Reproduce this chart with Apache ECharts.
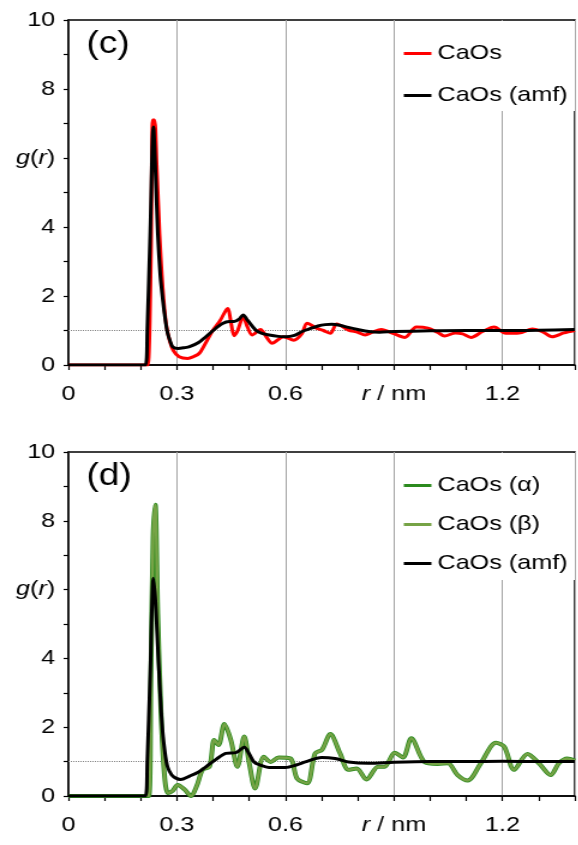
<!DOCTYPE html>
<html>
<head>
<meta charset="utf-8">
<script src="https://cdn.jsdelivr.net/npm/echarts@6/dist/echarts.min.js"></script>
<style>
html, body { margin: 0; padding: 0; background: #fff; overflow: hidden; }
/* 原图横向被拉伸了约 1.2 倍 */
#gr_chart { width: 482px; height: 845px; transform: scaleX(1.2); transform-origin: 0 0; }
</style>
</head>
<body>
<div id="gr_chart"></div>
<script>
// (c) CaOs
var c_caos_r = [0, 0.215, 0.22, 0.228, 0.233, 0.238, 0.244, 0.252, 0.261, 0.27, 0.28, 0.29, 0.306, 0.33, 0.345, 0.362, 0.38, 0.399, 0.42, 0.44, 0.45, 0.458, 0.468, 0.483, 0.495, 0.508, 0.531, 0.548, 0.563, 0.595, 0.623, 0.645, 0.66, 0.687, 0.705, 0.724, 0.742, 0.774, 0.8, 0.82, 0.84, 0.865, 0.897, 0.93, 0.962, 0.994, 1.02, 1.04, 1.07, 1.09, 1.113, 1.145, 1.177, 1.209, 1.246, 1.283, 1.31, 1.337, 1.37, 1.4];
var c_caos_g = [0, 0, 0, 3.0, 7.1, 7.1, 5.8, 3.8, 2.2, 1.2, 0.7, 0.42, 0.24, 0.19, 0.24, 0.34, 0.65, 1.0, 1.3, 1.64, 1.2, 0.85, 1.0, 1.4, 1.1, 0.87, 1.03, 0.8, 0.63, 0.82, 0.72, 0.9, 1.21, 1.06, 1.0, 0.92, 1.19, 1.01, 0.95, 0.87, 0.95, 1.03, 0.92, 0.8, 1.1, 1.07, 0.95, 0.84, 0.93, 0.9, 0.8, 0.97, 1.1, 0.92, 0.93, 1.04, 0.97, 0.82, 0.93, 1.0];

// (c) CaOs (amf)
var c_amf_r = [0, 0.213, 0.218, 0.226, 0.235, 0.241, 0.247, 0.254, 0.261, 0.268, 0.274, 0.281, 0.288, 0.303, 0.32, 0.335, 0.36, 0.38, 0.4, 0.426, 0.445, 0.458, 0.472, 0.483, 0.495, 0.518, 0.535, 0.555, 0.58, 0.6, 0.625, 0.646, 0.67, 0.69, 0.71, 0.728, 0.75, 0.774, 0.8, 0.83, 0.86, 0.9, 1.0, 1.1, 1.2, 1.3, 1.4];
var c_amf_g = [0, 0, 1.0, 3.8, 6.9, 5.5, 3.82, 2.6, 1.88, 1.3, 0.93, 0.7, 0.53, 0.48, 0.5, 0.53, 0.65, 0.82, 1.0, 1.2, 1.26, 1.26, 1.33, 1.45, 1.3, 1.01, 0.92, 0.87, 0.83, 0.82, 0.86, 0.97, 1.06, 1.13, 1.17, 1.18, 1.15, 1.09, 1.03, 0.97, 0.95, 0.97, 0.99, 1.0, 1.0, 1.01, 1.03];

// (d) CaOs (α) / CaOs (β)，两条曲线几乎重合
var d_alpha_r = [0, 0.222, 0.228, 0.234, 0.24, 0.247, 0.256, 0.265, 0.275, 0.288, 0.302, 0.32, 0.339, 0.355, 0.371, 0.39, 0.403, 0.415, 0.431, 0.449, 0.467, 0.486, 0.5, 0.516, 0.54, 0.559, 0.581, 0.614, 0.632, 0.66, 0.682, 0.701, 0.724, 0.751, 0.774, 0.797, 0.824, 0.856, 0.874, 0.902, 0.925, 0.948, 0.984, 1.021, 1.049, 1.076, 1.104, 1.14, 1.182, 1.205, 1.232, 1.269, 1.301, 1.333, 1.356, 1.379, 1.4];
var d_alpha_g = [0, 0, 3.5, 7.5, 8.47, 5.3, 2.4, 0.67, 0.09, 0.15, 0.32, 0.2, 0.0, 0.3, 0.76, 0.85, 1.63, 1.48, 2.09, 1.63, 0.85, 1.73, 0.95, 0.22, 1.14, 0.99, 1.12, 1.09, 0.51, 0.37, 1.24, 1.34, 1.8, 1.24, 0.76, 0.8, 0.48, 0.85, 0.85, 1.26, 1.12, 1.68, 0.99, 0.93, 0.95, 0.61, 0.45, 0.95, 1.55, 1.43, 0.76, 1.22, 0.95, 0.61, 0.95, 1.09, 1.03];
var d_beta_r = [0, 0.222, 0.228, 0.234, 0.24, 0.247, 0.256, 0.265, 0.275, 0.288, 0.302, 0.32, 0.339, 0.355, 0.371, 0.39, 0.403, 0.415, 0.431, 0.449, 0.467, 0.486, 0.5, 0.516, 0.54, 0.559, 0.581, 0.614, 0.632, 0.66, 0.682, 0.701, 0.724, 0.751, 0.774, 0.797, 0.824, 0.856, 0.874, 0.902, 0.925, 0.948, 0.984, 1.021, 1.049, 1.076, 1.104, 1.14, 1.182, 1.205, 1.232, 1.269, 1.301, 1.333, 1.356, 1.379, 1.4];
var d_beta_g = [0, 0, 3.5, 7.5, 8.47, 5.3, 2.4, 0.67, 0.09, 0.15, 0.32, 0.2, 0.0, 0.3, 0.76, 0.85, 1.63, 1.48, 2.09, 1.63, 0.85, 1.73, 0.95, 0.22, 1.14, 0.99, 1.12, 1.09, 0.51, 0.37, 1.24, 1.34, 1.8, 1.24, 0.76, 0.8, 0.48, 0.85, 0.85, 1.26, 1.12, 1.68, 0.99, 0.93, 0.95, 0.61, 0.45, 0.95, 1.55, 1.43, 0.76, 1.22, 0.95, 0.61, 0.95, 1.09, 1.03];

// (d) CaOs (amf)
var d_amf_r = [0, 0.213, 0.218, 0.226, 0.235, 0.241, 0.247, 0.254, 0.26, 0.267, 0.274, 0.285, 0.297, 0.31, 0.335, 0.36, 0.38, 0.41, 0.435, 0.463, 0.486, 0.5, 0.513, 0.53, 0.554, 0.6, 0.63, 0.655, 0.7, 0.737, 0.774, 0.83, 0.9, 1.0, 1.1, 1.2, 1.3, 1.4];
var d_amf_g = [0, 0, 1.0, 3.5, 6.33, 5.6, 4.34, 2.9, 1.92, 1.25, 0.85, 0.62, 0.52, 0.48, 0.58, 0.7, 0.85, 1.08, 1.24, 1.26, 1.42, 1.22, 0.99, 0.9, 0.83, 0.83, 0.9, 0.99, 1.12, 1.09, 0.99, 0.95, 0.98, 1.0, 1.0, 1.01, 1.0, 1.0];

// 刻度标签
var x_tick_labels = ['0', '0.3', '0.6', '', '1.2'];
var x_tick_values = [0, 3, 6, 9, 12];
var y_tick_labels = ['0', '2', '4', '', '8', '10'];

var font = '"Liberation Sans", Arial, sans-serif';

function zip(r, g) {
    var out = [];
    for (var i = 0; i < r.length; i++) {
        out.push([r[i], g[i]]);
    }
    return out;
}

function x_label(v) {
    var k = Math.round(v * 10);
    var i = x_tick_values.indexOf(k);
    if (i < 0) return '';
    if (k === 9) return '{it|r} / nm';
    return x_tick_labels[i];
}

function y_label(v) {
    if (v === 6) return '{it|g}({it|r})';
    if (v % 2 !== 0) return '';
    return y_tick_labels[v / 2];
}

var rich_it = {
    it: { fontStyle: 'italic', fontSize: 21, fontFamily: font, color: '#000' }
};

function main_x(grid_index) {
    return {
        type: 'value', gridIndex: grid_index, min: 0, max: 1.4, interval: 0.1,
        axisLine: { lineStyle: { color: '#000', width: 1.5 } },
        axisTick: { length: 5, lineStyle: { color: '#000', width: 1.2 } },
        axisLabel: { formatter: x_label, color: '#000', fontSize: 21, fontFamily: font, margin: 19, rich: rich_it },
        splitLine: { show: false }
    };
}

// 只画 0.3 间隔的竖直网格线
function grid_x(grid_index) {
    return {
        type: 'value', gridIndex: grid_index, min: 0, max: 1.4, interval: 0.3,
        axisLine: { show: false }, axisTick: { show: false }, axisLabel: { show: false },
        splitLine: { show: true, lineStyle: { color: '#a6a6a6', width: 1 } }
    };
}

function main_y(grid_index) {
    return {
        type: 'value', gridIndex: grid_index, min: 0, max: 10, interval: 1,
        axisLine: { show: true, lineStyle: { color: '#000', width: 1.5 } },
        axisTick: { show: true, length: 4, lineStyle: { color: '#000', width: 1.2 } },
        axisLabel: { formatter: y_label, color: '#000', fontSize: 21, fontFamily: font, margin: 11, rich: rich_it },
        splitLine: { show: false }
    };
}

var ref_line = {
    silent: true, z: 1, symbol: ['none', 'none'],
    label: { show: false },
    lineStyle: { color: '#808080', type: 'dotted', width: 1 },
    data: [{ yAxis: 1 }]
};

function line(name, xi, yi, data, color, width, z, mark) {
    var s = {
        name: name, type: 'line', xAxisIndex: xi, yAxisIndex: yi,
        data: data, symbol: 'none', smooth: 0.3, z: z,
        lineStyle: { color: color, width: width },
        itemStyle: { color: color }
    };
    if (mark) s.markLine = ref_line;
    return s;
}

var legend_text = { color: '#000', fontSize: 21, fontFamily: font };

var gr_chart = echarts.init(document.getElementById('gr_chart'));

var gr_option = {
    animation: false,
    backgroundColor: '#fff',
    title: [
        { text: '(c)', left: 67, top: 24, textStyle: { fontSize: 31, fontWeight: 'normal', fontFamily: font, color: '#000' } },
        { text: '(d)', left: 67, top: 456, textStyle: { fontSize: 31, fontWeight: 'normal', fontFamily: font, color: '#000' } }
    ],
    legend: [
        {
            data: ['CaOs', 'CaOs (amf)'],
            orient: 'vertical', right: 3, top: 21, icon: 'rect',
            padding: [22, 6, 5, 3], itemGap: 21, itemWidth: 23, itemHeight: 3,
            backgroundColor: '#fff', textStyle: legend_text
        },
        {
            data: ['CaOs (α)', 'CaOs (β)', 'CaOs (amf)'],
            orient: 'vertical', right: 3, top: 453, icon: 'rect',
            padding: [22, 6, 6, 3], itemGap: 18, itemWidth: 23, itemHeight: 3,
            backgroundColor: '#fff', textStyle: legend_text
        }
    ],
    grid: [
        { left: 57, right: 1, top: 20, height: 345, show: true, borderColor: '#000', borderWidth: 1.5 },
        { left: 57, right: 1, top: 452, height: 344, show: true, borderColor: '#000', borderWidth: 1.5 }
    ],
    xAxis: [main_x(0), grid_x(0), main_x(1), grid_x(1)],
    yAxis: [main_y(0), main_y(1)],
    series: [
        line('CaOs', 0, 0, zip(c_caos_r, c_caos_g), '#ff0000', 3, 3, true),
        line('CaOs (amf)', 0, 0, zip(c_amf_r, c_amf_g), '#000000', 3, 4, false),
        line('CaOs (α)', 2, 1, zip(d_alpha_r, d_alpha_g), '#2b8a1e', 4, 3, true),
        line('CaOs (β)', 2, 1, zip(d_beta_r, d_beta_g), '#76a346', 2.5, 4, false),
        line('CaOs (amf)', 2, 1, zip(d_amf_r, d_amf_g), '#000000', 3, 5, false)
    ]
};

gr_chart.setOption(gr_option);
</script>
</body>
</html>
